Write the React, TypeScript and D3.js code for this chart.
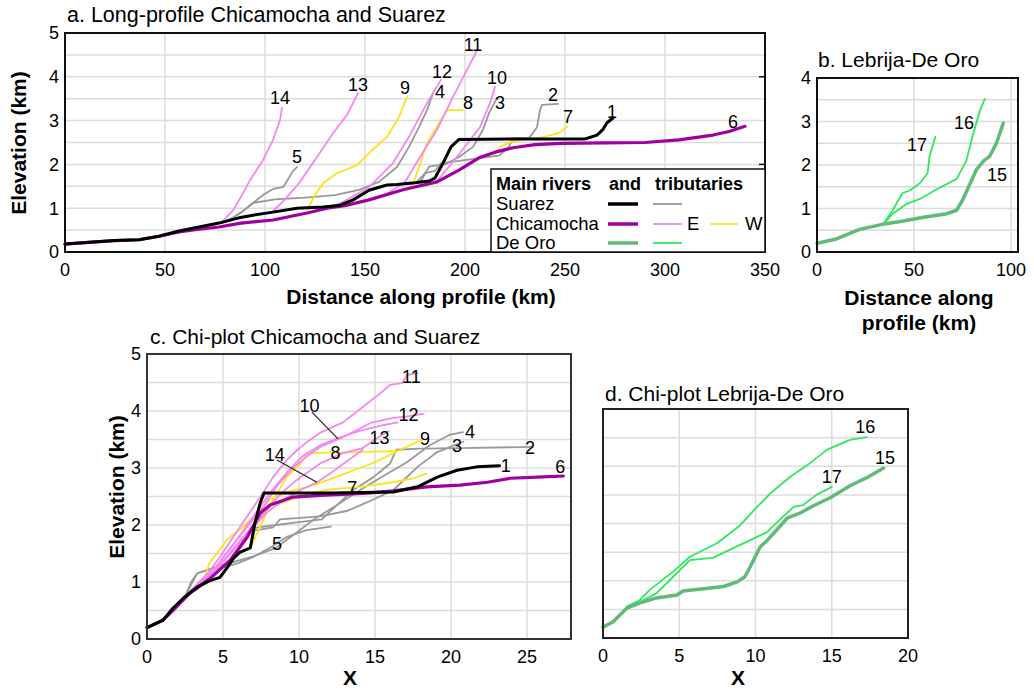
import React from 'react';
import * as d3 from 'd3';

type Pt = [number, number];

const FONT = '"Liberation Sans", Arial, Helvetica, sans-serif';
const GRID = '#dcdcdc';

// river colours
const SUAREZ = '#000000';
const CHICAMOCHA = '#a000a0';
const TRIB_SUAREZ = '#999999';
const TRIB_E = '#f587f0';
const TRIB_W = '#ffe31a';
const DE_ORO = '#60bb78';
const TRIB_DE_ORO = '#2fe85e';

// ---- a. long profiles: distance (km), elevation (km)
const aSuarez: Pt[] = [[0,0.18],[12,0.22],[25,0.26],[37,0.28],[47,0.36],[57,0.48],[67,0.57],[77,0.66],[87,0.78],[94,0.84],[104,0.91],[116,1.0],[129,1.03],[137,1.06],[144,1.19],[152,1.41],[161,1.53],[166,1.54],[175,1.58],[182,1.62],[185,1.69],[189,2.03],[193,2.4],[197,2.57],[230,2.58],[260,2.58],[266,2.67],[269,2.8],[271,2.95],[274,3.06]];
const aChicamocha: Pt[] = [[0,0.18],[12,0.22],[25,0.26],[37,0.28],[47,0.36],[57,0.46],[67,0.52],[77,0.57],[88,0.66],[104,0.73],[121,0.89],[131,1.0],[140,1.06],[152,1.19],[169,1.42],[186,1.6],[197,1.87],[207,2.15],[215,2.28],[224,2.38],[235,2.45],[248,2.48],[270,2.49],[290,2.5],[307,2.56],[324,2.67],[332,2.75],[340,2.87]];
const aTrib2: Pt[] = [[176,1.6],[180,1.8],[185,1.85],[188,2.03],[200,2.1],[208,2.15],[217,2.2],[222,2.4],[224,2.6],[232,2.6],[236,2.85],[237.5,3.24],[238.5,3.36],[246.5,3.38]];
const aTrib3: Pt[] = [[178,1.62],[182,1.95],[186,1.98],[190,2.0],[197,2.17],[204,2.4],[209,2.79],[212,3.17],[216,3.52]];
const aTrib4: Pt[] = [[78,0.66],[84,0.78],[88,0.9],[94,1.12],[105,1.2],[120,1.24],[135,1.3],[147,1.42],[157,1.6],[166,1.94],[172,2.4],[177,2.85],[181,3.24],[184,3.63]];
const aTrib5: Pt[] = [[78,0.66],[84,0.78],[88,0.9],[94,1.12],[99,1.3],[104,1.44],[109,1.48],[111,1.62],[114,1.85],[116,1.94]];
const aTrib7: Pt[] = [[214,2.22],[216,2.28],[217.5,2.4],[222,2.5],[230,2.57],[239,2.62],[247,2.72],[251,2.86]];
const aTrib8: Pt[] = [[172,1.45],[174,1.55],[177,1.94],[181,2.49],[187,2.94],[191,3.24],[199,3.24]];
const aTrib9: Pt[] = [[121,0.96],[125,1.3],[129,1.57],[136,1.8],[146,1.98],[152,2.26],[161,2.63],[167,3.08],[171,3.54]];
const aTrib10: Pt[] = [[180,1.55],[186,1.62],[192,1.95],[197.5,2.26],[207.5,2.85],[212.5,3.4],[215,3.77]];
const aTrib11: Pt[] = [[160,1.3],[170,1.6],[177.5,2.17],[186,2.79],[194,3.54],[201,4.16],[206,4.6]];
const aTrib12: Pt[] = [[131,1.02],[138,1.12],[152,1.48],[164,2.03],[172,2.63],[181,3.4],[188,3.93]];
const aTrib13: Pt[] = [[104,0.93],[110,1.2],[117,1.57],[126,2.17],[134,2.71],[141,3.13],[146.5,3.63]];
const aTrib14: Pt[] = [[78,0.66],[84,0.95],[88,1.26],[92.5,1.64],[99,2.1],[104,2.56],[107.5,3.01],[108.5,3.29]];
const aLabels: [string, number, number][] = [['14',107.5,3.52],['5',116,2.17],['13',146.5,3.81],['9',170,3.74],['12',188.5,4.11],['4',187.5,3.65],['11',204,4.73],['8',201.5,3.4],['10',216,3.99],['3',217.5,3.4],['2',244,3.58],['7',251.5,3.08],['1',273.5,3.2],['6',334,2.97]];

// ---- b. Lebrija-De Oro long profiles
const bDeOro: Pt[] = [[0,0.2],[10,0.3],[22,0.52],[33,0.63],[43,0.7],[55,0.8],[67,0.88],[72,0.96],[75,1.19],[79,1.58],[82,1.88],[86,2.1],[89,2.2],[92.5,2.5],[96,2.96]];
const bTrib16: Pt[] = [[34,0.63],[39,0.88],[46,1.1],[53,1.22],[62,1.45],[72,1.68],[77,2.1],[80.5,2.72],[84,3.25],[86.5,3.52]];
const bTrib17: Pt[] = [[34,0.63],[39,0.96],[44,1.35],[48,1.42],[53,1.58],[57,1.81],[58,2.2],[61,2.65]];
const bLabels: [string, number, number][] = [['17',51.5,2.46],['16',75.8,2.97],['15',92.8,1.77]];

// ---- c. chi-plot Chicamocha and Suarez: chi, elevation (km)
const cSuarez: Pt[] = [[0,0.2],[1.05,0.33],[1.7,0.54],[2.4,0.72],[3.3,0.91],[4.1,1.02],[4.8,1.08],[5.3,1.26],[5.7,1.42],[6.1,1.52],[6.8,1.6],[7.1,2.03],[7.45,2.39],[7.7,2.56],[12,2.56],[16.2,2.58],[17.8,2.67],[19.1,2.84],[20.4,2.96],[21.7,3.02],[23.2,3.04]];
const cChicamocha: Pt[] = [[0,0.2],[1.05,0.33],[1.7,0.5],[2.8,0.8],[4.1,1.05],[5.5,1.39],[6.6,1.79],[7.45,2.21],[8.1,2.35],[9.6,2.49],[11.4,2.52],[14.5,2.56],[16.2,2.6],[18.4,2.67],[20.6,2.7],[22.4,2.75],[23.9,2.82],[25.7,2.84],[27.4,2.86]];
const cTrib2: Pt[] = [[6.8,1.62],[7.1,1.95],[8.5,2.0],[10,2.05],[11.5,2.1],[12.5,2.35],[13.5,2.6],[14.9,2.84],[16,3.08],[16.4,3.32],[18,3.34],[20.6,3.35],[25.4,3.37]];
const cTrib3: Pt[] = [[6.8,1.65],[7,1.9],[8.3,1.96],[8.75,2.1],[11.4,2.15],[13.2,2.25],[14.5,2.4],[16.2,2.61],[17.8,3.02],[19.1,3.28],[20.8,3.46]];
const cTrib4: Pt[] = [[2.6,0.8],[3.3,1.15],[5,1.3],[7,1.45],[8.5,1.6],[10,1.9],[11,2.1],[12.5,2.35],[14,2.61],[15.3,2.82],[17.1,3.1],[18.6,3.4],[19.9,3.58],[20.8,3.63]];
const cTrib5: Pt[] = [[2.6,0.8],[2.9,1.0],[3.3,1.15],[4.1,1.22],[4.8,1.24],[6,1.33],[7,1.44],[8.2,1.62],[9.2,1.79],[10.5,1.91],[12.1,1.97]];
const cTrib7: Pt[] = [[8.5,2.35],[9.5,2.45],[10.5,2.55],[12,2.62],[14,2.67],[16.2,2.75],[17.5,2.82],[18.4,2.9]];
const cTrib8: Pt[] = [[6.8,1.6],[7.5,2.0],[8.2,2.4],[9.2,2.84],[10.1,3.08],[10.5,3.26],[12,3.27],[14,3.28],[16.5,3.3]];
const cTrib9: Pt[] = [[3.7,0.98],[4.1,1.33],[5.3,1.75],[6.3,1.96],[7.2,2.2],[8.1,2.45],[9.5,2.6],[11,2.7],[12.5,2.85],[14,3.0],[15,3.1],[16.2,3.26],[17.3,3.4],[18.1,3.49]];
const cTrib10: Pt[] = [[2.8,0.8],[4.5,1.25],[5.8,1.7],[7,2.15],[8.2,2.6],[9.3,2.95],[10.2,3.2],[11.4,3.4],[12.6,3.53],[14,3.65],[15.5,3.75],[16.5,3.8]];
const cTrib11: Pt[] = [[2.5,0.75],[4,1.15],[4.8,1.44],[6.1,1.96],[7.2,2.39],[8.3,2.84],[9.2,3.14],[9.9,3.32],[10.5,3.45],[11.4,3.62],[12.9,3.8],[14.2,4.07],[15.3,4.3],[16,4.46],[16.8,4.49],[17.1,4.63],[17.8,4.67]];
const cTrib12: Pt[] = [[2.6,0.75],[4.2,1.15],[5.2,1.5],[6.4,1.9],[7.6,2.3],[8.6,2.7],[9.6,3.0],[10.5,3.2],[11.4,3.37],[12.9,3.54],[14.7,3.79],[16.2,3.88],[17,3.9],[18.2,3.95]];
const cTrib13: Pt[] = [[3,0.85],[4.8,1.3],[6.2,1.75],[7.5,2.15],[8.8,2.55],[9.9,2.8],[11.4,3.08],[12.9,3.26],[14.2,3.35],[15,3.5],[15.9,3.65]];
const cTrib14: Pt[] = [[3.2,0.85],[5,1.35],[6.5,1.8],[7.8,2.2],[9,2.45],[10,2.6],[11.2,2.75],[12.3,2.95],[13.3,3.15],[14.2,3.32]];
const cLabels: [string, number, number][] = [['11',17.4,4.6],['12',17.2,3.93],['13',15.3,3.54],['9',18.3,3.51],['4',21.25,3.63],['3',20.4,3.4],['2',25.2,3.35],['1',23.6,3.04],['6',27.2,3.02],['8',12.4,3.26],['7',13.5,2.65],['5',8.55,1.68],['10',10.7,4.1],['14',8.4,3.23]];
const cLeaders: Pt[][] = [[[10.85,3.98],[12.57,3.51]],[[8.55,3.14],[11.18,2.75]]];

// ---- d. chi-plot Lebrija-De Oro
const dDeOro: Pt[] = [[0,0.19],[0.65,0.28],[1.55,0.52],[2.4,0.61],[3.5,0.7],[4.85,0.75],[5.25,0.82],[6.6,0.86],[7.9,0.9],[8.8,0.98],[9.3,1.07],[9.65,1.24],[10.3,1.59],[10.75,1.7],[11.4,1.89],[12.1,2.1],[12.9,2.18],[13.8,2.31],[14.9,2.45],[16.2,2.66],[17.3,2.8],[18.4,2.97]];
const dTrib16: Pt[] = [[1.55,0.55],[2.4,0.66],[3.1,0.85],[4.6,1.16],[5.7,1.42],[7.5,1.66],[9,1.97],[10.1,2.29],[11,2.53],[12.3,2.82],[13.4,3.02],[14.7,3.29],[16.2,3.46],[17.3,3.51]];
const dTrib17: Pt[] = [[2.4,0.63],[3.5,0.78],[4.6,1.07],[5.7,1.36],[7.2,1.4],[8.3,1.54],[9.65,1.71],[10.75,1.85],[11.8,2.12],[12.5,2.29],[13.1,2.32],[14,2.5],[15,2.64]];
const dLabels: [string, number, number][] = [['16',17.2,3.69],['15',18.5,3.15],['17',15.0,2.81]];

type Series = { pts: Pt[]; color: string; w: number };
const thin = (pts: Pt[], color: string): Series => ({ pts, color, w: 1.8 });

const aSeries: Series[] = [
  thin(aTrib5, TRIB_SUAREZ), thin(aTrib4, TRIB_SUAREZ), thin(aTrib3, TRIB_SUAREZ), thin(aTrib2, TRIB_SUAREZ),
  thin(aTrib9, TRIB_W), thin(aTrib8, TRIB_W), thin(aTrib7, TRIB_W),
  thin(aTrib14, TRIB_E), thin(aTrib13, TRIB_E), thin(aTrib12, TRIB_E), thin(aTrib11, TRIB_E), thin(aTrib10, TRIB_E),
  { pts: aChicamocha, color: CHICAMOCHA, w: 3.2 },
  { pts: aSuarez, color: SUAREZ, w: 3 },
];
const bSeries: Series[] = [
  thin(bTrib17, TRIB_DE_ORO), thin(bTrib16, TRIB_DE_ORO),
  { pts: bDeOro, color: DE_ORO, w: 3.5 },
];
const cSeries: Series[] = [
  thin(cTrib5, TRIB_SUAREZ), thin(cTrib4, TRIB_SUAREZ), thin(cTrib3, TRIB_SUAREZ), thin(cTrib2, TRIB_SUAREZ),
  thin(cTrib9, TRIB_W), thin(cTrib8, TRIB_W), thin(cTrib7, TRIB_W),
  thin(cTrib14, TRIB_E), thin(cTrib13, TRIB_E), thin(cTrib12, TRIB_E), thin(cTrib11, TRIB_E), thin(cTrib10, TRIB_E),
  { pts: cChicamocha, color: CHICAMOCHA, w: 3.2 },
  { pts: cSuarez, color: SUAREZ, w: 3 },
];
const dSeries: Series[] = [
  thin(dTrib17, TRIB_DE_ORO), thin(dTrib16, TRIB_DE_ORO),
  { pts: dDeOro, color: DE_ORO, w: 3.5 },
];

type Box = { l: number; t: number; r: number; b: number };

function Panel(props: {
  box: Box; xDomain: [number, number]; yDomain: [number, number];
  xTicks: number[]; yTicks: number[]; yGrid: number[];
  series: Series[]; labels: [string, number, number][];
  leaders?: Pt[][]; rightTicks?: number[]; frame?: string;
}) {
  const { box, xDomain, yDomain, xTicks, yTicks, yGrid, series, labels } = props;
  const x = d3.scaleLinear().domain(xDomain).range([box.l, box.r]);
  const y = d3.scaleLinear().domain(yDomain).range([box.b, box.t]);
  const line = d3.line<Pt>().x(d => x(d[0])).y(d => y(d[1]));
  return (
    <g>
      {xTicks.filter(v => x(v) > box.l + 1 && x(v) < box.r - 1).map(v => (
        <line key={'gx' + v} x1={x(v)} x2={x(v)} y1={box.t} y2={box.b} stroke={GRID} strokeWidth={1.5} />
      ))}
      {yGrid.filter(v => y(v) > box.t + 1 && y(v) < box.b - 1).map(v => (
        <line key={'gy' + v} x1={box.l} x2={box.r} y1={y(v)} y2={y(v)} stroke={GRID} strokeWidth={1.5} />
      ))}
      {series.map((s, i) => (
        <path key={i} d={line(s.pts) || ''} fill="none" stroke={s.color} strokeWidth={s.w}
          strokeLinejoin="round" strokeLinecap="round" />
      ))}
      {(props.leaders || []).map((l, i) => (
        <path key={'ld' + i} d={line(l) || ''} stroke="#222" strokeWidth={1.2} fill="none" />
      ))}
      {labels.map(([t, lx, ly]) => (
        <text key={'lb' + t} x={x(lx)} y={y(ly)} dy="0.35em" textAnchor="middle" fontSize={18}>{t}</text>
      ))}
      <rect x={box.l} y={box.t} width={box.r - box.l} height={box.b - box.t} fill="none"
        stroke={props.frame || '#111'} strokeWidth={2} />
      {(props.rightTicks || []).map(v => (
        <line key={'rt' + v} x1={box.r - 6} x2={box.r} y1={y(v)} y2={y(v)} stroke="#111" strokeWidth={1.5} />
      ))}
      {xTicks.map(v => (
        <text key={'xt' + v} x={x(v)} y={box.b + 24} textAnchor="middle" fontSize={18}>{v}</text>
      ))}
      {yTicks.map(v => (
        <text key={'yt' + v} x={box.l - 6} y={y(v)} dy="0.35em" textAnchor="end" fontSize={18}>{v}</text>
      ))}
    </g>
  );
}

function Legend() {
  const rows = [
    { name: 'Suarez', main: SUAREZ, tribs: [TRIB_SUAREZ], y: 204 },
    { name: 'Chicamocha', main: CHICAMOCHA, tribs: [TRIB_E, TRIB_W], y: 224 },
    { name: 'De Oro', main: DE_ORO, tribs: [TRIB_DE_ORO], y: 243 },
  ];
  return (
    <g>
      <rect x={491} y={169} width={274} height={83} fill="#fff" stroke="#111" strokeWidth={1.5} />
      <text x={496} y={190} fontSize={18} fontWeight="bold">Main rivers</text>
      <text x={609} y={190} fontSize={18} fontWeight="bold">and</text>
      <text x={655} y={190} fontSize={18} fontWeight="bold">tributaries</text>
      {rows.map(r => (
        <g key={r.name}>
          <text x={496} y={r.y + 6} fontSize={18.5}>{r.name}</text>
          <line x1={608} x2={638} y1={r.y} y2={r.y} stroke={r.main} strokeWidth={3.5} />
          <line x1={653} x2={682} y1={r.y} y2={r.y} stroke={r.tribs[0]} strokeWidth={1.8} />
          {r.tribs.length > 1 && (
            <g>
              <text x={687} y={r.y + 6} fontSize={18.5}>E</text>
              <line x1={710} x2={738} y1={r.y} y2={r.y} stroke={r.tribs[1]} strokeWidth={1.8} />
              <text x={745} y={r.y + 6} fontSize={18.5}>W</text>
            </g>
          )}
        </g>
      ))}
    </g>
  );
}

export default function App() {
  const half = (a: number, b: number) => d3.range(a, b + 0.001, 0.5);
  return (
    <svg width={1034} height={691} style={{ position: 'absolute', left: 0, top: 0, background: '#fff' }}
      fontFamily={FONT}>
      <text x={67} y={22} fontSize={21.5}>a. Long-profile Chicamocha and Suarez</text>
      <Panel box={{ l: 65, t: 33, r: 765, b: 252 }} xDomain={[0, 350]} yDomain={[0, 5]}
        xTicks={d3.range(0, 351, 50)} yTicks={d3.range(0, 6)} yGrid={half(0, 5)}
        series={aSeries} labels={aLabels} rightTicks={[2, 4]} />
      <Legend />
      <text transform="translate(19,143) rotate(-90)" textAnchor="middle" dy="0.35em" fontSize={21} fontWeight="bold">Elevation (km)</text>
      <text x={421} y={304} textAnchor="middle" fontSize={21} fontWeight="bold">Distance along profile (km)</text>

      <text x={818} y={67} fontSize={21}>b. Lebrija-De Oro</text>
      <Panel box={{ l: 817, t: 78, r: 1018, b: 252 }} xDomain={[0, 103.6]} yDomain={[0, 4]}
        xTicks={[0, 50, 100]} yTicks={d3.range(0, 5)} yGrid={half(0, 4)}
        series={bSeries} labels={bLabels} />
      <text x={919} y={305} textAnchor="middle" fontSize={21} fontWeight="bold">Distance along</text>
      <text x={919} y={330} textAnchor="middle" fontSize={21} fontWeight="bold">profile (km)</text>

      <text x={150} y={344} fontSize={21}>c. Chi-plot Chicamocha and Suarez</text>
      <Panel box={{ l: 147, t: 354, r: 571, b: 639 }} xDomain={[0, 27.9]} yDomain={[0, 5]}
        xTicks={d3.range(0, 26, 5)} yTicks={d3.range(0, 6)} yGrid={half(0, 5)}
        series={cSeries} labels={cLabels} leaders={cLeaders} frame="#333" />
      <text transform="translate(117,487) rotate(-90)" textAnchor="middle" dy="0.35em" fontSize={21} fontWeight="bold">Elevation (km)</text>
      <text x={350} y={685} textAnchor="middle" fontSize={21} fontWeight="bold">X</text>

      <text x={605} y={401} fontSize={21}>d. Chi-plot Lebrija-De Oro</text>
      <Panel box={{ l: 603, t: 409, r: 908, b: 638 }} xDomain={[0, 20]} yDomain={[0, 4]}
        xTicks={d3.range(0, 21, 5)} yTicks={[]} yGrid={half(0, 4)}
        series={dSeries} labels={dLabels} frame="#222" />
      <text x={738} y={685} textAnchor="middle" fontSize={21} fontWeight="bold">X</text>
    </svg>
  );
}
